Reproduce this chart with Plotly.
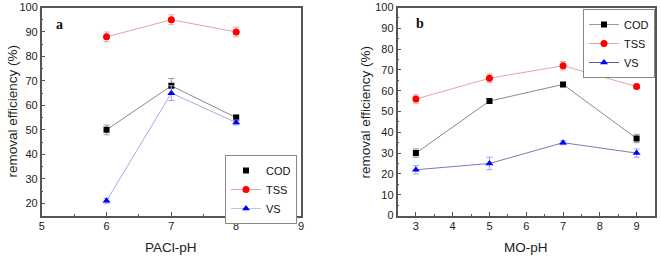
import plotly.graph_objects as go

# Panel a: PACl-pH
ph_a = [6, 7, 8]
cod_a = [50, 68, 55]
cod_a_err = [2, 3, 1]
tss_a = [88, 95, 90]
tss_a_err = [2, 2, 2]
vs_a = [21, 65, 53]
vs_a_err = [1, 3, 1]

# Panel b: MO-pH
ph_b = [3, 5, 7, 9]
cod_b = [30, 55, 63, 37]
cod_b_err = [2, 1, 1, 2]
tss_b = [56, 66, 72, 62]
tss_b_err = [2, 2, 2, 1]
vs_b = [22, 25, 35, 30]
vs_b_err = [2, 3, 1, 2]

FONT = "Liberation Sans, Arial, sans-serif"

fig = go.Figure()

def add_series(x, y, err, name, xa, ya, mcolor, lcolor, ecolor, symbol, msize, dash="solid"):
    fig.add_trace(go.Scatter(
        x=x, y=y, mode="lines+markers", name=name, showlegend=False,
        xaxis=xa, yaxis=ya,
        line=dict(color=lcolor, width=1, dash=dash),
        marker=dict(color=mcolor, symbol=symbol, size=msize),
        error_y=dict(type="data", array=err, color=ecolor, thickness=1, width=3),
    ))

# panel a
add_series(ph_a, cod_a, cod_a_err, "COD", "x", "y", "#000000", "#8a8a8a", "#9a9a9a", "square", 6)
add_series(ph_a, tss_a, tss_a_err, "TSS", "x", "y", "#ff0000", "#e6a3a3", "#f0a0a0", "circle", 7)
add_series(ph_a, vs_a, vs_a_err, "VS", "x", "y", "#0000ff", "#a8a8e6", "#a0a0f0", "triangle-up", 7)
# panel b
add_series(ph_b, cod_b, cod_b_err, "COD", "x2", "y2", "#000000", "#8a8a8a", "#9a9a9a", "square", 6)
add_series(ph_b, tss_b, tss_b_err, "TSS", "x2", "y2", "#ff0000", "#e6a3a3", "#f0a0a0", "circle", 7)
add_series(ph_b, vs_b, vs_b_err, "VS", "x2", "y2", "#0000ff", "#7a7ac0", "#a0a0f0", "triangle-up", 7)

# legend entries (legend-only traces)
leg_a = [("COD", "markers", "#000000", "#ffffff", "square", 6),
         ("TSS", "lines+markers", "#ff0000", "#e6a3a3", "circle", 7),
         ("VS", "lines+markers", "#0000ff", "#c0c0ee", "triangle-up", 7)]
for name, mode, mc, lc, sym, sz in leg_a:
    fig.add_trace(go.Scatter(x=[None], y=[None], mode=mode, name=name, legend="legend",
                             xaxis="x", yaxis="y",
                             line=dict(color=lc, width=1), marker=dict(color=mc, symbol=sym, size=sz)))
leg_b = [("COD", "lines+markers", "#000000", "#9a9a9a", "square", 6),
         ("TSS", "lines+markers", "#ff0000", "#e6a3a3", "circle", 7),
         ("VS", "lines+markers", "#0000ff", "#5a5aa8", "triangle-up", 7)]
for name, mode, mc, lc, sym, sz in leg_b:
    fig.add_trace(go.Scatter(x=[None], y=[None], mode=mode, name=name, legend="legend2",
                             xaxis="x2", yaxis="y2",
                             line=dict(color=lc, width=1), marker=dict(color=mc, symbol=sym, size=sz)))

W, H = 661, 257
ybot, ytop = (H - 215.5) / H, (H - 7.5) / H

axis_common = dict(showline=True, linecolor="#555555", linewidth=1.5, mirror=True,
                   ticks="inside", ticklen=4, tickcolor="#555555", tickwidth=1,
                   showgrid=False, zeroline=False, automargin=False,
                   tickfont=dict(family=FONT, size=11, color="#222222"))

legend_common = dict(xanchor="right", yanchor="top",
                     bordercolor="#888888", borderwidth=1, bgcolor="white",
                     font=dict(family=FONT, size=11, color="#111111"),
                     tracegroupgap=0, itemwidth=30)

fig.update_layout(
    width=W, height=H,
    margin=dict(l=0, r=0, t=0, b=0),
    paper_bgcolor="white", plot_bgcolor="white",
    font=dict(family=FONT, color="#222222"),
    xaxis=dict(domain=[41.7 / W, 301 / W], range=[5, 9], dtick=1,
               minor=dict(dtick=0.5, ticks="inside", ticklen=2, tickcolor="#555555"),
               anchor="y", **axis_common),
    yaxis=dict(domain=[ybot, ytop], range=[15, 100], tick0=0, dtick=10,
               minor=dict(dtick=5, ticks="inside", ticklen=2, tickcolor="#555555"),
               anchor="x", **axis_common),
    xaxis2=dict(domain=[397.5 / W, 655 / W], range=[2.5, 9.5], dtick=1,
                minor=dict(dtick=0.5, ticks="inside", ticklen=2, tickcolor="#555555"),
                anchor="y2", **axis_common),
    yaxis2=dict(domain=[ybot, ytop], range=[0, 100], tick0=0, dtick=10,
                minor=dict(dtick=5, ticks="inside", ticklen=2, tickcolor="#555555"),
                anchor="x2", **axis_common),
    legend=dict(x=297 / W, y=(H - 155) / H, **legend_common),
    legend2=dict(x=655 / W, y=(H - 9) / H, **legend_common),
    showlegend=True,
)

ann = [
    dict(text="removal efficiency (%)", x=12 / W, y=(H - 111.5) / H, textangle=-90, size=13.5),
    dict(text="removal efficiency (%)", x=365 / W, y=(H - 111.5) / H, textangle=-90, size=13.5),
    dict(text="PACl-pH", x=171 / W, y=(H - 247) / H, textangle=0, size=13.5),
    dict(text="MO-pH", x=526 / W, y=(H - 247) / H, textangle=0, size=13.5),
]
for a in ann:
    fig.add_annotation(text=a["text"], x=a["x"], y=a["y"], xref="paper", yref="paper",
                       textangle=a["textangle"], showarrow=False,
                       font=dict(family=FONT, size=a["size"], color="#222222"),
                       xanchor="center", yanchor="middle")

fig.add_annotation(text="<b>a</b>", x=59 / W, y=(H - 24) / H, xref="paper", yref="paper",
                   showarrow=False, font=dict(family="Liberation Serif, Times New Roman, serif", size=14, color="#111111"),
                   xanchor="center", yanchor="middle")
fig.add_annotation(text="<b>b</b>", x=420 / W, y=(H - 23) / H, xref="paper", yref="paper",
                   showarrow=False, font=dict(family="Liberation Serif, Times New Roman, serif", size=14, color="#111111"),
                   xanchor="center", yanchor="middle")

fig.write_html("out.html", config={"displayModeBar": False},
               post_script="document.body.style.margin='0';document.body.style.overflow='hidden';")
